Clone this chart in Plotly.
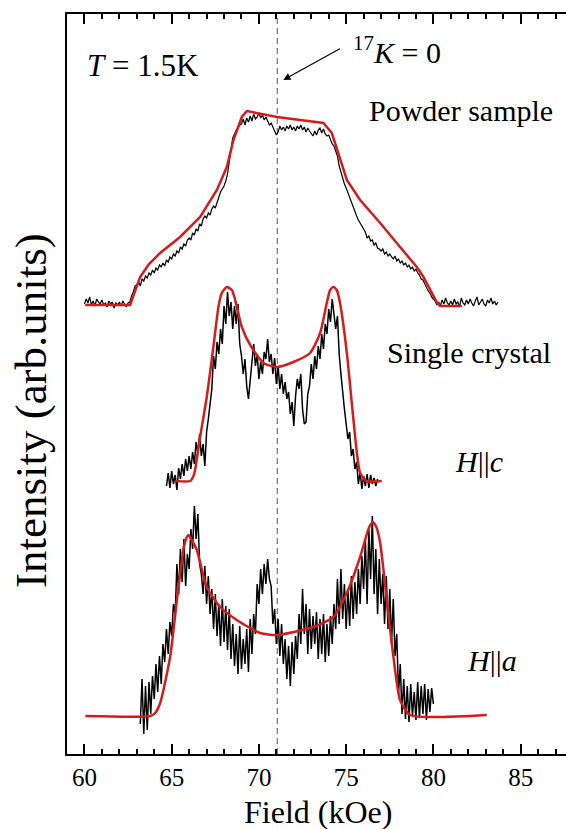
import numpy as np
import plotly.graph_objects as go

FONT = "'Liberation Serif', 'Times New Roman', Times, 'DejaVu Serif', serif"

# ---------------- data (field in kOe, intensity in arb. units) ----------------
K0_FIELD = 71.05  # 17K = 0 position

# Powder sample – measured spectrum (start field, step, values)
powder_start = 60.0
powder_step = 0.1
powder_int = [
    450, 455, 451, 457, 449, 453, 448, 455, 452, 450,
    454, 449, 451, 447, 453, 450, 452, 446, 451, 449,
    452, 448, 453, 450, 447, 451, 452, 458, 462, 468,
    469, 472, 468, 475, 473, 478, 476, 481, 479, 484,
    481, 486, 484, 489, 487, 491, 488, 494, 492, 497,
    495, 500, 498, 503, 501, 507, 505, 510, 508, 514,
    516, 514, 521, 519, 525, 523, 530, 528, 535, 538,
    536, 541, 539, 545, 548, 546, 552, 556, 562, 565,
    568, 573, 580, 592, 605, 616, 620, 624, 626, 629,
    630, 635, 629, 636, 632, 638, 633, 640, 635, 637,
    641, 636, 639, 634, 637, 632, 629, 631, 627, 624,
    619, 622, 628, 624, 627, 623, 628, 625, 629, 624,
    627, 623, 628, 625, 629, 624, 627, 622, 626, 623,
    620, 618, 623, 619, 624, 626, 621, 625, 620, 618,
    619, 615, 610, 608, 602, 598, 588, 581, 574, 570,
    566, 561, 557, 552, 548, 543, 538, 534, 531, 527,
    524, 522, 516, 518, 513, 514, 509, 511, 506, 505,
    503, 505, 500, 502, 498, 500, 497, 495, 498, 493,
    495, 491, 493, 489, 491, 487, 489, 485, 487, 483,
    485, 481, 479, 475, 474, 470, 466, 463, 461, 457,
    455, 453, 449, 452, 448, 454, 450, 456, 451, 449,
    453, 449, 455, 450, 452, 447, 456, 451, 449, 454,
    450, 455, 451, 448, 453, 457, 449, 452, 455, 450,
    448, 454, 451, 456, 450, 453, 449, 452,
]
powder_fit_field = [60.04, 62.62, 62.8, 63.0, 63.19, 63.7, 64.34, 65.48, 66.63, 67.59,
                    68.16, 68.54, 69.02, 69.31, 71.04, 72.36, 73.70, 74.18, 74.56, 75.04,
                    75.80, 76.95, 78.09, 79.05, 79.43, 79.82, 80.19, 80.38, 81.63]
powder_fit_int = [449, 449, 458, 469, 477, 490, 501, 517, 537, 564,
                  587, 614, 637, 643, 637, 634, 631, 621, 601, 574,
                  554, 531, 507, 487, 477, 464, 452, 448, 448]

# Single crystal H||c
c_start = 64.7
c_step = 0.1
c_int = [
    268, 281, 266, 283, 270, 279, 264, 286, 275, 290,
    278, 295, 283, 298, 285, 302, 290, 312, 300, 320,
    298, 310, 288, 322, 335, 352, 365, 398, 385, 412,
    400, 425, 410, 448, 430, 462, 438, 452, 425, 448,
    430, 450, 410, 398, 380, 395, 368, 355, 378, 392,
    410, 388, 400, 375, 392, 380, 402, 395, 415, 392,
    400, 380, 396, 370, 388, 365, 380, 360, 372, 355,
    362, 340, 352, 328, 358, 375, 365, 380, 345, 330,
    332, 360, 368, 390, 375, 398, 385, 408, 395, 420,
    405, 430, 420, 445, 432, 455, 440, 425, 438, 400,
    380, 360, 345, 330, 315, 322, 298, 305, 285, 292,
    270, 282, 265, 278, 268, 280, 266, 279, 270, 276,
    268, 275,
]
c_fit_field = [65.21, 66.06, 66.25, 66.34, 66.63, 67.01, 67.39, 67.68, 67.87, 68.16,
               68.45, 68.64, 69.02, 69.5, 70.26, 71.03, 71.98, 72.93, 73.51, 73.89,
               74.08, 74.27, 74.46, 74.65, 75.04, 75.42, 75.8, 76.18, 77.04]
c_fit_int = [273, 273, 278, 284, 317, 357, 407, 447, 461, 467,
             464, 454, 427, 409, 391, 387, 392, 401, 421, 451,
             464, 467, 464, 451, 401, 334, 281, 273, 273]

# Single crystal H||a
a_start = 63.2
a_step = 0.1
a_int = [
    30, 75, 20, 68, 24, 72, 40, 78, 55, 90,
    62, 98, 70, 110, 92, 125, 100, 132, 118, 150,
    140, 190, 160, 205, 172, 215, 168, 200, 185, 225,
    205, 248, 215, 240, 190, 180, 160, 188, 150, 178,
    140, 165, 125, 160, 118, 150, 108, 155, 112, 148,
    104, 145, 95, 130, 88, 120, 80, 128, 85, 115,
    90, 125, 82, 135, 100, 140, 120, 170, 150, 185,
    160, 190, 170, 195, 175, 168, 130, 145, 110, 135,
    98, 130, 90, 115, 75, 108, 68, 112, 80, 118,
    95, 140, 110, 165, 120, 150, 100, 145, 105, 138,
    110, 142, 95, 135, 100, 140, 92, 130, 98, 138,
    110, 150, 125, 175, 130, 185, 135, 170, 125, 165,
    128, 178, 135, 172, 140, 185, 150, 198, 165, 215,
    150, 225, 175, 238, 160, 205, 140, 195, 150, 180,
    130, 178, 125, 165, 110, 155, 98, 120, 60, 90,
    40, 75, 35, 68, 32, 70, 38, 62, 34, 72,
    36, 68, 40, 70, 34, 65, 42, 66, 50,
]
a_fit_field = [60.05, 63.77, 64.05, 64.34, 64.91, 65.3, 65.67, 65.8, 65.96, 66.15,
               66.44, 67.01, 67.78, 68.73, 70.07, 71.03, 73.12, 74.27, 75.04, 75.8,
               76.3, 76.53, 76.75, 76.95, 77.33, 77.71, 78.09, 78.67, 83.06]
a_fit_int = [38, 38, 41, 51, 97, 154, 204, 214, 219, 214,
             204, 167, 147, 134, 121, 119, 127, 137, 161, 197,
             226, 232, 226, 211, 154, 97, 54, 39, 39]

x_ticks = [60, 65, 70, 75, 80, 85]


def grid(start, step, values):
    return np.round(start + step * np.arange(len(values)), 3)


RED = "#d41c1c"
fig = go.Figure()

for start, step, vals, w in [(powder_start, powder_step, powder_int, 1.2),
                             (c_start, c_step, c_int, 1.5),
                             (a_start, a_step, a_int, 1.5)]:
    fig.add_trace(go.Scatter(x=grid(start, step, vals), y=vals, mode="lines",
                             line=dict(color="black", width=w), hoverinfo="skip"))

fig.add_trace(go.Scatter(x=powder_fit_field, y=powder_fit_int, mode="lines",
                         line=dict(color=RED, width=2.5)))
fig.add_trace(go.Scatter(x=c_fit_field, y=c_fit_int, mode="lines",
                         line=dict(color=RED, width=2.5, shape="spline", smoothing=0.6)))
fig.add_trace(go.Scatter(x=a_fit_field, y=a_fit_int, mode="lines",
                         line=dict(color=RED, width=2.5, shape="spline", smoothing=0.6)))

fig.add_shape(type="line", xref="x", yref="paper", x0=K0_FIELD, x1=K0_FIELD, y0=0, y1=1,
              line=dict(color="#555555", width=1, dash="6px,4px"), layer="below")

fig.update_layout(
    width=566, height=829,
    margin=dict(l=67, r=0, t=14, b=75),
    plot_bgcolor="white", paper_bgcolor="white",
    showlegend=False,
    font=dict(family=FONT, color="black"),
)
fig.update_xaxes(
    range=[59.0, 87.6], showline=True, linecolor="black", linewidth=2,
    mirror="ticks", ticks="inside", ticklen=10, tickwidth=2, tickcolor="black",
    tickvals=x_ticks, ticktext=[str(v) for v in x_ticks],
    tickfont=dict(family=FONT, size=25, color="black"),
    minor=dict(dtick=1, tick0=0, ticks="inside", ticklen=5, tickwidth=1.5, tickcolor="black"),
    showgrid=False, zeroline=False,
)
fig.update_yaxes(
    range=[0, 740], showline=True, linecolor="black", linewidth=2, mirror=False,
    ticks="", showticklabels=False, showgrid=False, zeroline=False,
)

def txt(text, x, y, size=30, xanchor="left", **kw):
    fig.add_annotation(text=text, xref="paper", yref="paper", x=x, y=y,
                       xanchor=xanchor, yanchor="middle", showarrow=False,
                       font=dict(family=FONT, size=size, color="black"), **kw)

txt("<i>T</i> = 1.5K", 0.036, 0.93, size=31)
txt("<sup>17</sup><i>K</i> = 0", 0.57, 0.952, size=30)
txt("Powder sample", 0.601, 0.870)
txt("Single crystal", 0.637, 0.543)
txt("<i>H</i>||<i>c</i>", 0.774, 0.395)
txt("<i>H</i>||<i>a</i>", 0.798, 0.127)
txt("Field (kOe)", 0.503, -0.078, size=32, xanchor="center")
txt("Intensity (arb.units)", -0.072, 0.4635, size=45, xanchor="center", textangle=-90)

fig.add_annotation(x=71.40, y=674, xref="x", yref="y", text="", showarrow=True,
                   ax=58, ay=-32, arrowhead=2, arrowsize=1.2, arrowwidth=1.2,
                   arrowcolor="black", standoff=0)

fig.write_html("out.html")
